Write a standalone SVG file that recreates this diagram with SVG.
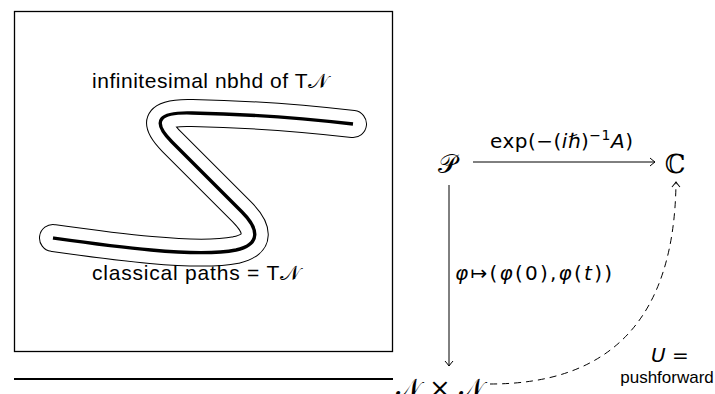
<svg xmlns="http://www.w3.org/2000/svg" width="715" height="394" viewBox="0 0 715 394">
<style>
text{font-family:"Liberation Sans","DejaVu Sans",sans-serif;fill:#000}
.lbl{font-size:17px}
.big{font-size:21px}
.mid{font-size:20px;font-family:"DejaVu Sans","Liberation Sans",sans-serif}
.math{font-size:26px;font-family:"DejaVu Serif","Liberation Serif",serif}
.it{font-style:italic}
.ln{stroke:#000;stroke-width:1;fill:none}
</style>
<defs>
<marker id="to" viewBox="-6 -5 8 10" markerWidth="8" markerHeight="10" refX="0" refY="0" orient="auto" markerUnits="userSpaceOnUse">
<path d="M -5 -4 Q -1.5 -1 0 0 Q -1.5 1 -5 4" fill="none" stroke="#000" stroke-width="1"/>
</marker>
</defs>
<g id="frame">
<rect x="14.5" y="11.5" width="378" height="340" fill="none" stroke="#000" stroke-width="1.3"/>
<line x1="14" y1="379" x2="393" y2="379" stroke="#000" stroke-width="2"/>
</g>
<g id="tube">
<path d="M 53 238 C 110 246 195 258 236 250 C 262 244 258 228 242 212 L 172 142 C 150 120 160 112 192 113 C 250 114 300 118 353 124" fill="none" stroke="#000" stroke-width="28" stroke-linecap="round" stroke-linejoin="round"/>
<path d="M 53 238 C 110 246 195 258 236 250 C 262 244 258 228 242 212 L 172 142 C 150 120 160 112 192 113 C 250 114 300 118 353 124" fill="none" stroke="#fff" stroke-width="26" stroke-linecap="round" stroke-linejoin="round"/>
<path d="M 53 238 C 110 246 195 258 236 250 C 262 244 258 228 242 212 L 172 142 C 150 120 160 112 192 113 C 250 114 300 118 353 124" fill="none" stroke="#000" stroke-width="3.4" stroke-linecap="butt"/>
<text class="big" x="92" y="88" textLength="236" lengthAdjust="spacing">infinitesimal nbhd of T𝒩</text>
<text class="big" x="92" y="280" textLength="208" lengthAdjust="spacing">classical paths = T𝒩</text>
</g>
<g id="P"><text class="math" x="447" y="173" text-anchor="middle">𝒫</text></g>
<g id="C"><text class="math" x="675" y="173" text-anchor="middle">ℂ</text></g>
<g id="NxN"><text class="math" x="440" y="397" text-anchor="middle">𝒩 × 𝒩</text></g>
<g id="connectors">
<line class="ln" x1="473" y1="162" x2="655" y2="162" marker-end="url(#to)"/>
<line class="ln" x1="449" y1="185" x2="449" y2="366" marker-end="url(#to)"/>
<path class="ln" d="M 490 384 Q 674 384 676 182" stroke-dasharray="7 5" marker-end="url(#to)"/>
<text class="mid" x="490" y="148" textLength="143" lengthAdjust="spacing">exp(−(<tspan class="it">iℏ</tspan>)<tspan font-size="14" dy="-8">−1</tspan><tspan class="it" dy="8">A</tspan>)</text>
<text class="mid" x="455" y="280" textLength="157" lengthAdjust="spacing"><tspan class="it">φ</tspan>↦(<tspan class="it">φ</tspan>(0),<tspan class="it">φ</tspan>(<tspan class="it">t</tspan>))</text>
<text class="mid" x="670" y="362" text-anchor="middle"><tspan class="it">U</tspan> =</text>
<text class="lbl" x="667" y="383" text-anchor="middle">pushforward</text>
</g>
</svg>
